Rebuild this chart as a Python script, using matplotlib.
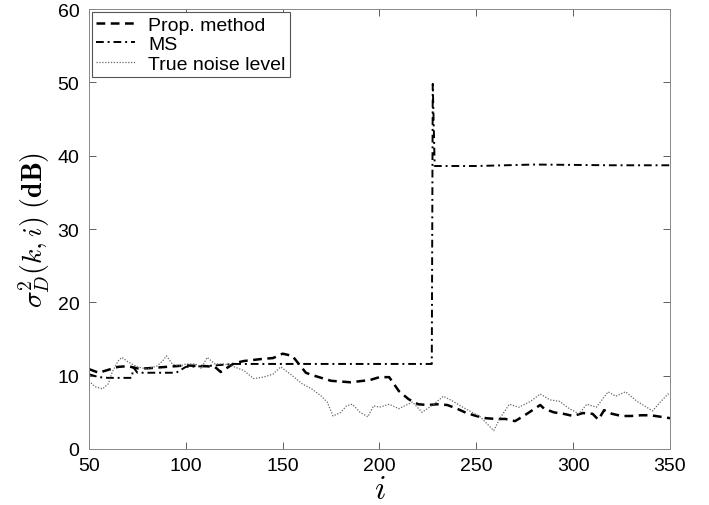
import matplotlib.pyplot as plt

plt.rcParams["mathtext.fontset"] = "cm"
plt.rcParams["font.family"] = ["Liberation Sans", "DejaVu Sans"]

# Proposed method (dashed)
prop_i = [50, 55, 60, 65, 70, 75, 80, 90, 100, 110, 115, 118, 125, 130, 140,
          145, 150, 155, 162, 165, 170, 175, 185, 195, 200, 205, 210, 215, 220,
          225, 230, 235, 240, 245, 250, 255, 260, 265, 270, 275, 283, 285, 290,
          295, 300, 305, 310, 313, 316, 320, 325, 330, 335, 340, 345, 350]
prop_db = [10.9, 10.4, 10.8, 11.2, 11.3, 11.0, 11.0, 11.2, 11.4, 11.3, 11.2,
           10.5, 11.7, 12.0, 12.3, 12.4, 13.0, 12.7, 10.4, 10.1, 9.7, 9.3, 9.1,
           9.4, 9.8, 9.8, 7.9, 6.8, 6.1, 6.0, 6.1, 6.0, 5.5, 4.9, 4.5, 4.2, 4.1,
           4.1, 3.8, 4.6, 6.0, 5.5, 5.0, 4.8, 4.5, 4.9, 4.8, 4.0, 5.3, 4.8,
           4.5, 4.5, 4.6, 4.6, 4.4, 4.2]

# MS (dash-dot)
ms_i = [50, 55, 60, 65, 72, 73, 75, 85, 95, 100, 110, 125, 150, 200, 227,
        227.5, 228.5, 250, 280, 320, 350]
ms_db = [10.2, 9.8, 9.7, 9.7, 9.7, 11.1, 10.4, 10.4, 10.4, 11.2, 11.3, 11.6,
         11.6, 11.6, 11.6, 49.8, 38.6, 38.6, 38.8, 38.7, 38.7]

# True noise level (dotted)
true_i = [50, 53, 57, 60, 62, 65, 67, 70, 75, 80, 85, 88, 90, 93, 97, 100,
          105, 108, 111, 115, 120, 125, 130, 135, 140, 145, 149, 155, 160, 165,
          170, 173, 176, 180, 183, 186, 190, 194, 197, 200, 205, 210, 217,
          222, 228, 233, 238, 243, 252, 259, 262, 267, 272, 278, 283, 288,
          293, 298, 303, 307, 312, 318, 322, 327, 333, 341, 345, 349, 350]
true_db = [9.3, 8.5, 8.2, 8.9, 10.5, 12.0, 12.5, 11.9, 11.2, 10.9, 11.3, 12.0,
           12.7, 11.6, 11.3, 11.6, 11.6, 11.0, 12.5, 11.6, 11.6, 11.2, 10.7,
           9.6, 9.8, 10.2, 11.2, 10.0, 8.9, 8.2, 7.2, 6.4, 4.5, 5.0, 5.9, 6.1,
           5.0, 4.4, 5.9, 5.7, 6.1, 5.5, 6.4, 5.0, 6.1, 7.2, 6.5, 5.7, 4.4,
           2.5, 4.1, 6.1, 5.7, 6.5, 7.5, 6.7, 6.5, 5.5, 4.8, 6.1, 5.7, 7.8,
           7.2, 7.8, 6.5, 5.2, 6.4, 7.5, 7.3]

x_ticks = [50, 100, 150, 200, 250, 300, 350]
y_ticks = [0, 10, 20, 30, 40, 50, 60]


def main():
    fig = plt.figure(figsize=(7.09, 5.06), dpi=100)
    ax = fig.add_axes([0.1255, 0.1107, 0.8195, 0.8693])

    ax.plot(prop_i, prop_db, color="black", lw=1.8, linestyle=(0, (3.5, 2.2)),
            label="Prop. method")
    ax.plot(ms_i, ms_db, color="black", lw=1.4, linestyle=(0, (4, 2, 1, 2)),
            label="MS")
    ax.plot(true_i, true_db, color="#666666", lw=0.9, linestyle=(0, (1, 1.3)),
            label="True noise level")

    ax.set_xlim(50, 350)
    ax.set_ylim(0, 60)
    ax.set_xticks(x_ticks)
    ax.set_yticks(y_ticks)
    ax.tick_params(direction="in", length=5, width=0.6, labelsize=14,
                   top=True, right=True, color="#444444")
    ax.tick_params(axis="x", pad=6)
    ax.tick_params(axis="y", pad=7)
    for s in ax.spines.values():
        s.set_color("#888888")
        s.set_linewidth(0.7)

    ax.set_xlabel(r"$i$", fontsize=24, labelpad=0)
    ax.set_ylabel(r"$\sigma_D^2(k,i)\ \mathbf{(dB)}$", fontsize=20, labelpad=4)

    leg = ax.legend(loc="upper left", fontsize=14, handlelength=2.0,
                    handletextpad=0.7, borderaxespad=0.15, borderpad=0.2,
                    labelspacing=0.1, fancybox=False, framealpha=1)
    leg.get_frame().set_edgecolor("#555555")
    leg.get_frame().set_linewidth(0.8)

    fig.savefig("out.png", facecolor="white")
    plt.close(fig)


if __name__ == "__main__":
    main()
